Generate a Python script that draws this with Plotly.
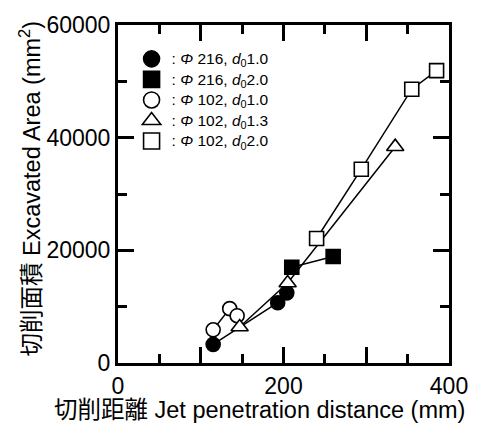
import plotly.graph_objects as go

# Excavated area vs jet penetration distance for each nozzle / d0 condition
labels = [
    ": <i>Φ</i> 216, <i>d</i><sub>0</sub>1.0",
    ": <i>Φ</i> 216, <i>d</i><sub>0</sub>2.0",
    ": <i>Φ</i> 102, <i>d</i><sub>0</sub>1.0",
    ": <i>Φ</i> 102, <i>d</i><sub>0</sub>1.3",
    ": <i>Φ</i> 102, <i>d</i><sub>0</sub>2.0",
]

dist_216_10 = [115, 193, 204]
area_216_10 = [3300, 10700, 12450]

dist_216_20 = [210, 260]
area_216_20 = [17000, 18900]

dist_102_10 = [115, 135, 144]
area_102_10 = [5900, 9650, 8400]

dist_102_13 = [147, 205, 335]
area_102_13 = [6400, 14200, 38400]

dist_102_20 = [240, 294, 355, 385]
area_102_20 = [22100, 34400, 48600, 51900]

x_tickvals = [0, 100, 200, 300, 400]
x_ticktext = ["0", "", "200", "", "400"]
y_tickvals = [0, 20000, 40000, 60000]
y_ticktext = ["0", "20000", "40000", "60000"]

series = [
    (dist_216_10, area_216_10, "circle", "black", 14),
    (dist_102_10, area_102_10, "circle", "white", 14),
    (dist_102_13, area_102_13, "triangle-up", "white", 15),
    (dist_216_20, area_216_20, "square", "black", 14),
    (dist_102_20, area_102_20, "square", "white", 14),
]
legend_order = [0, 3, 1, 2, 4]

FONT = "Liberation Sans, Arial, Noto Sans CJK JP, sans-serif"

fig = go.Figure()
for xs, ys, sym, fill, size in series:
    fig.add_trace(go.Scatter(
        x=xs, y=ys, mode="lines+markers", showlegend=False,
        line=dict(color="black", width=1.5),
        marker=dict(symbol=sym, size=size, color=fill,
                    line=dict(color="black", width=1.6)),
    ))

# marker-only entries for the key (text a little larger than the row pitch)
for lab, idx in zip(labels, legend_order):
    _, _, sym, fill, size = series[idx]
    fig.add_trace(go.Scatter(
        x=[None], y=[None], mode="markers",
        name=f"<span style='font-size:15.5px'>{lab}</span>",
        marker=dict(symbol=sym, size=size + 2, color=fill,
                    line=dict(color="black", width=1.6)),
    ))

axis_common = dict(
    showline=True, linecolor="black", linewidth=3, mirror="allticks",
    ticks="inside", ticklen=16, tickwidth=3, tickcolor="black",
    showgrid=False, zeroline=False,
    tickfont=dict(family=FONT, size=23, color="black"),
)

fig.update_xaxes(range=[0, 400], tickvals=x_tickvals, ticktext=x_ticktext,
                 minor=dict(ticks="inside", dtick=50, ticklen=9, tickwidth=3,
                            tickcolor="black", showgrid=False),
                 **axis_common)
fig.update_yaxes(range=[0, 60000], tickvals=y_tickvals, ticktext=y_ticktext,
                 minor=dict(ticks="inside", dtick=10000, ticklen=9, tickwidth=3,
                            tickcolor="black", showgrid=False),
                 **axis_common)

fig.add_annotation(
    text="切削距離 Jet penetration distance (mm)", xref="paper", yref="paper",
    x=0.4267, y=-0.14, xanchor="center", yanchor="middle", showarrow=False,
    font=dict(family=FONT, size=23.5, color="black"),
)
fig.add_annotation(
    text="切削面積 Excavated Area (mm<sup>2</sup>)", xref="paper", yref="paper",
    x=-0.267, y=0.515, xanchor="center", yanchor="middle", showarrow=False,
    textangle=-90, font=dict(family=FONT, size=23.5, color="black"),
)

fig.update_layout(
    width=480, height=423,
    margin=dict(l=118, r=21, t=21, b=60),
    paper_bgcolor="white", plot_bgcolor="white",
    font=dict(family=FONT, color="black"),
    legend=dict(x=0.041, y=0.945, xanchor="left", yanchor="top",
                bgcolor="rgba(0,0,0,0)", tracegroupgap=0, itemwidth=30,
                font=dict(family=FONT, size=13.5, color="black")),
)

fig.write_html("out.html")
